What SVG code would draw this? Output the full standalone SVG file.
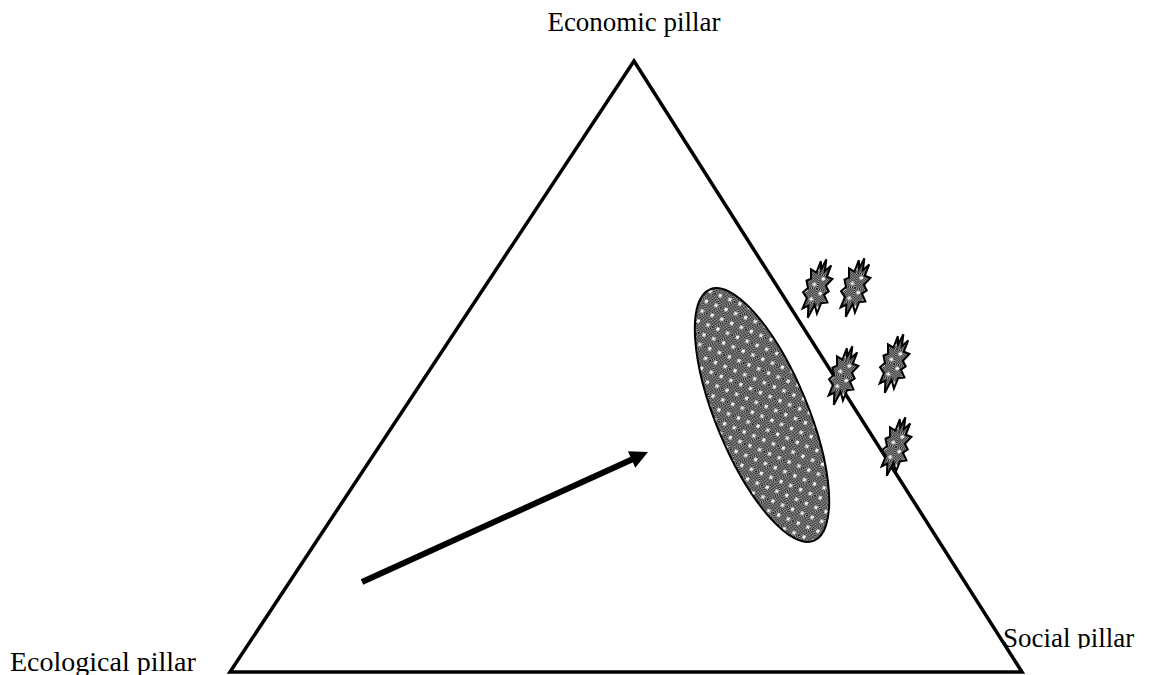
<svg xmlns="http://www.w3.org/2000/svg" width="1156" height="675" viewBox="0 0 1156 675">
<style>
.lbl{font-family:"Liberation Serif","Times New Roman",serif;font-size:27px;fill:#000}
.edge{fill:none;stroke:#000;stroke-width:3.5;stroke-linejoin:miter}
.burst{fill:url(#dots);stroke:#000;stroke-width:2;stroke-linejoin:miter}
</style>
<defs>
<pattern id="checker" width="2" height="2" patternUnits="userSpaceOnUse">
<rect width="2" height="2" fill="#a8a8a8"/>
<rect width="1" height="1" fill="#202020"/>
<rect x="1" y="1" width="1" height="1" fill="#202020"/>
</pattern>
<pattern id="dots" width="15" height="15" patternUnits="userSpaceOnUse">
<rect width="15" height="15" fill="url(#checker)"/>
<rect x="2" y="3" width="4" height="1.5" fill="#fff"/>
<rect x="3.25" y="1.75" width="1.5" height="4" fill="#fff"/>
<rect x="9.5" y="10.5" width="4" height="1.5" fill="#fff"/>
<rect x="10.75" y="9.25" width="1.5" height="4" fill="#fff"/>
</pattern>
<path id="burstShape" d="M3,-31 L4,-19 L9,-26 L7,-14 L13,-13 L8,-5 L12,0 L8,4 L13,11 L7,13 L5,24 L1,16 L-3,30 L-5,18 L-10,22 L-8,11 L-13,6 L-9,1 L-12,-6 L-8,-9 L-10,-18 L-4,-16 L-2,-28 L0,-20 Z"/>
<clipPath id="socialClip"><rect x="990" y="600" width="166" height="48.5"/></clipPath>
</defs>
<rect width="1156" height="675" fill="#fff"/>
<g id="triangle">
<polygon class="edge" points="634,61 1022,672 230,672"/>
</g>
<g id="ellipse">
<ellipse cx="762" cy="415" rx="46" ry="136" transform="rotate(-22.5 762 415)" fill="url(#dots)" stroke="#000" stroke-width="2"/>
</g>
<g id="bursts">
<use href="#burstShape" class="burst" transform="translate(817,289) rotate(12)"/>
<use href="#burstShape" class="burst" transform="translate(855,288) rotate(12)"/>
<use href="#burstShape" class="burst" transform="translate(843,376) rotate(12)"/>
<use href="#burstShape" class="burst" transform="translate(894,364) rotate(12)"/>
<use href="#burstShape" class="burst" transform="translate(896,447) rotate(12)"/>
</g>
<g id="connectors">
<line x1="362" y1="582" x2="633" y2="459" stroke="#000" stroke-width="6"/>
<polygon points="648,452 635.3,467.7 627.9,451.3" fill="#000"/>
</g>
<g id="labels">
<text class="lbl" x="634" y="31" text-anchor="middle">Economic pillar</text>
<text class="lbl" x="10" y="671" style="font-size:28px">Ecological pillar</text>
<text class="lbl" x="1003" y="647" clip-path="url(#socialClip)">Social pillar</text>
</g>
</svg>
